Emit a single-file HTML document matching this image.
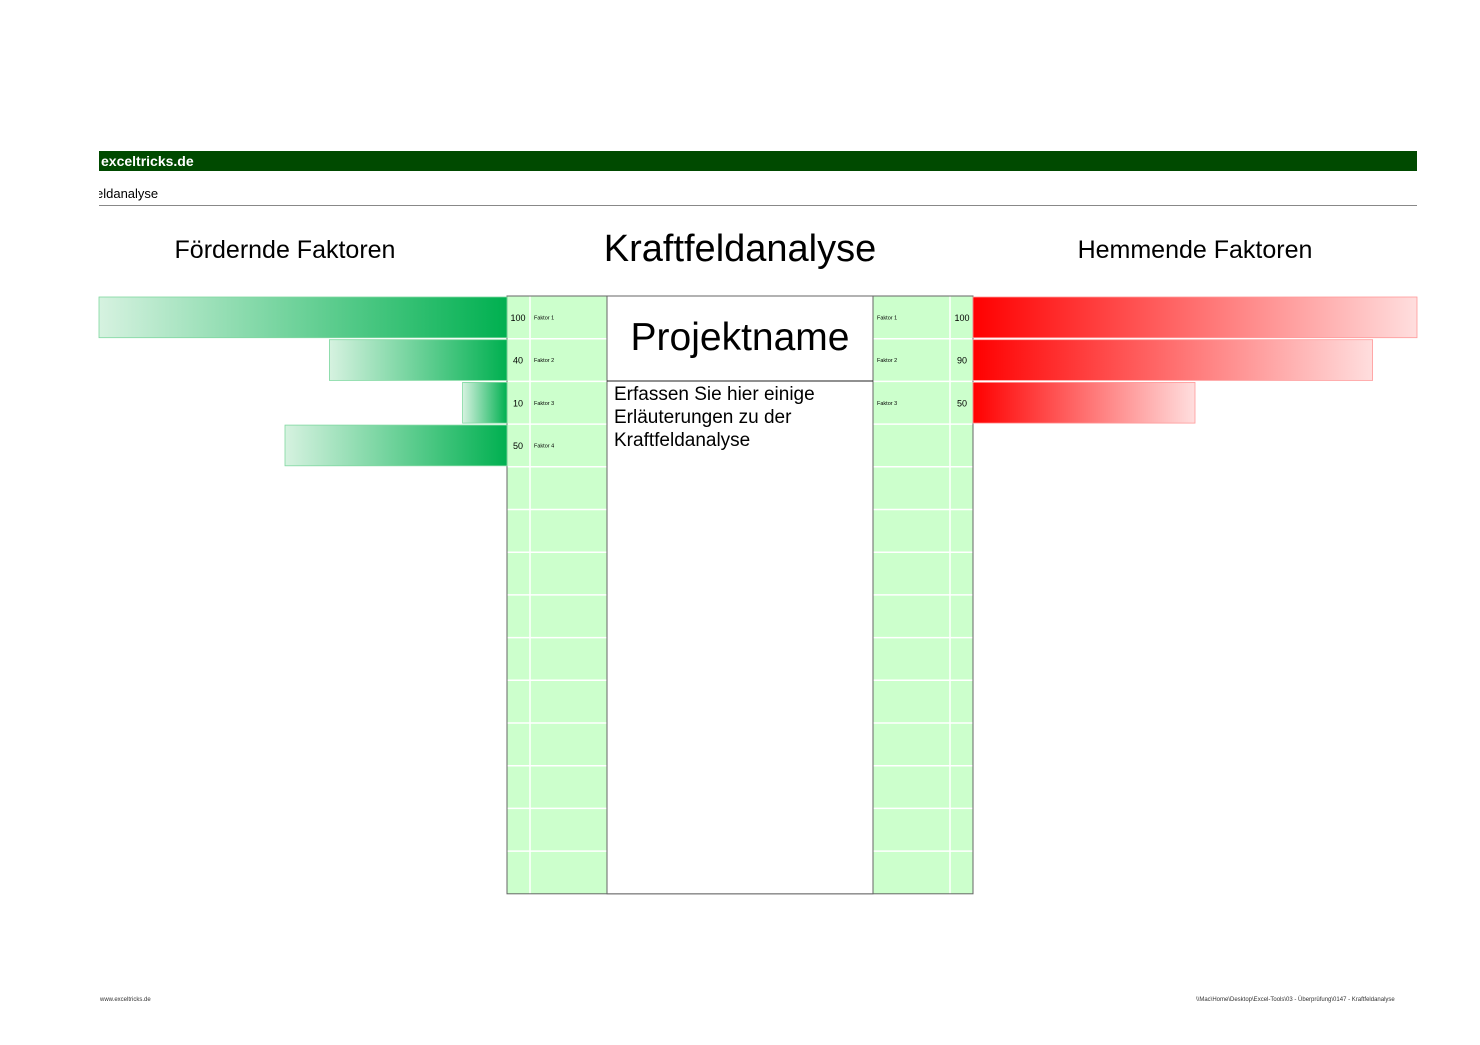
<!DOCTYPE html>
<html><head><meta charset="utf-8"><style>
body{margin:0;width:1480px;height:1045px;background:#fff;font-family:"Liberation Sans",sans-serif;position:relative;overflow:hidden}
.a{position:absolute;white-space:nowrap}
</style></head><body>
<div class="a" style="left:99px;top:151px;width:1318px;height:20px;background:#004a00"></div>
<div class="a" style="left:101px;top:153px;color:#fff;font-weight:bold;font-size:14px">exceltricks.de</div>
<div class="a" style="left:99px;top:186px;font-size:13px;width:80px;overflow:hidden"><span style="margin-left:-3px">eldanalyse</span></div>
<div class="a" style="left:99px;top:205px;width:1318px;height:1px;background:#888"></div>
<div class="a" style="left:85px;width:400px;text-align:center;top:236px;font-size:25px">Fördernde Faktoren</div>
<div class="a" style="left:540px;width:400px;text-align:center;top:228px;font-size:38px">Kraftfeldanalyse</div>
<div class="a" style="left:995px;width:400px;text-align:center;top:236px;font-size:25px">Hemmende Faktoren</div>
<svg class="a" style="left:0;top:0" width="1480" height="1045" id="chart"></svg>
<div class="a" style="left:607px;width:266px;text-align:center;top:316px;font-size:39px">Projektname</div>
<div class="a" style="left:614px;top:383px;font-size:19px;line-height:23px;white-space:normal;width:255px">Erfassen Sie hier einige Erläuterungen zu der Kraftfeldanalyse</div>
<div class="a" style="left:100px;top:997px;font-size:6px;color:#333">www.exceltricks.de</div>
<div class="a" style="left:1196px;top:997px;font-size:6px;color:#333">\\Mac\Home\Desktop\Excel-Tools\03 - Überprüfung\0147 - Kraftfeldanalyse</div>
<script>
const leftLabels=["Faktor 1","Faktor 2","Faktor 3","Faktor 4"];
const leftValues=[100,40,10,50];
const rightLabels=["Faktor 1","Faktor 2","Faktor 3"];
const rightValues=[100,90,50];
const NS="http://www.w3.org/2000/svg";
const svg=document.getElementById('chart');
const top0=296,rowH=42.7,nRows=14,scale=4.44;
function el(t,a){const e=document.createElementNS(NS,t);for(const k in a)e.setAttribute(k,a[k]);svg.appendChild(e);return e;}
const defs=el('defs',{});
defs.innerHTML='<linearGradient id="gl" x1="0" x2="1"><stop offset="0" stop-color="#d6f2e0"/><stop offset="1" stop-color="#00b050"/></linearGradient><linearGradient id="gr" x1="0" x2="1"><stop offset="0" stop-color="#ff0000"/><stop offset="1" stop-color="#ffdede"/></linearGradient>';
const bottom=top0+rowH*nRows;
// table backgrounds
for(const [x,w] of [[507,100],[873,100]]){
 const r=el('rect',{x:x,y:top0,width:w,height:bottom-top0,fill:'#ccffcc'});
 
 
}
for(let i=1;i<nRows;i++){const y=top0+i*rowH;el('line',{x1:507,x2:607,y1:y,y2:y,stroke:'#fff','stroke-width':1.5});el('line',{x1:873,x2:973,y1:y,y2:y,stroke:'#fff','stroke-width':1.5});}
for(const x of [530,950])el('line',{x1:x,x2:x,y1:top0,y2:bottom,stroke:'#fff','stroke-width':1.5});
el('rect',{x:507,y:top0,width:466,height:bottom-top0,fill:'none',stroke:'#666','stroke-width':1});
el('rect',{x:607,y:top0,width:266,height:bottom-top0,fill:'#fff',stroke:'#666','stroke-width':1});
el('line',{x1:607,x2:873,y1:381,y2:381,stroke:'#222','stroke-width':1});
leftValues.forEach((v,i)=>{
 const y=top0+i*rowH;const w=v*scale;const x=Math.max(99,507-w);
 const b=el('rect',{x:x,y:y+1,width:507-x,height:rowH-2,fill:'url(#gl)',stroke:'#7fd8a0','stroke-width':0.8});
 
 
 const t=el('text',{x:518,y:y+rowH/2+3.5,'font-size':9,'text-anchor':'middle'});t.textContent=v;
 
 
 const l=el('text',{x:534,y:y+rowH/2+2,'font-size':5.5});l.textContent=leftLabels[i];
 
 
});
rightValues.forEach((v,i)=>{
 const y=top0+i*rowH;const w=v*scale;
 const b=el('rect',{x:973,y:y+1,width:w,height:rowH-2,fill:'url(#gr)',stroke:'#ff9999','stroke-width':0.8});
 
 
 const t=el('text',{x:962,y:y+rowH/2+3.5,'font-size':9,'text-anchor':'middle'});t.textContent=v;
 
 
 const l=el('text',{x:877,y:y+rowH/2+2,'font-size':5.5});l.textContent=rightLabels[i];
 
 
});
</script>
</body></html>
